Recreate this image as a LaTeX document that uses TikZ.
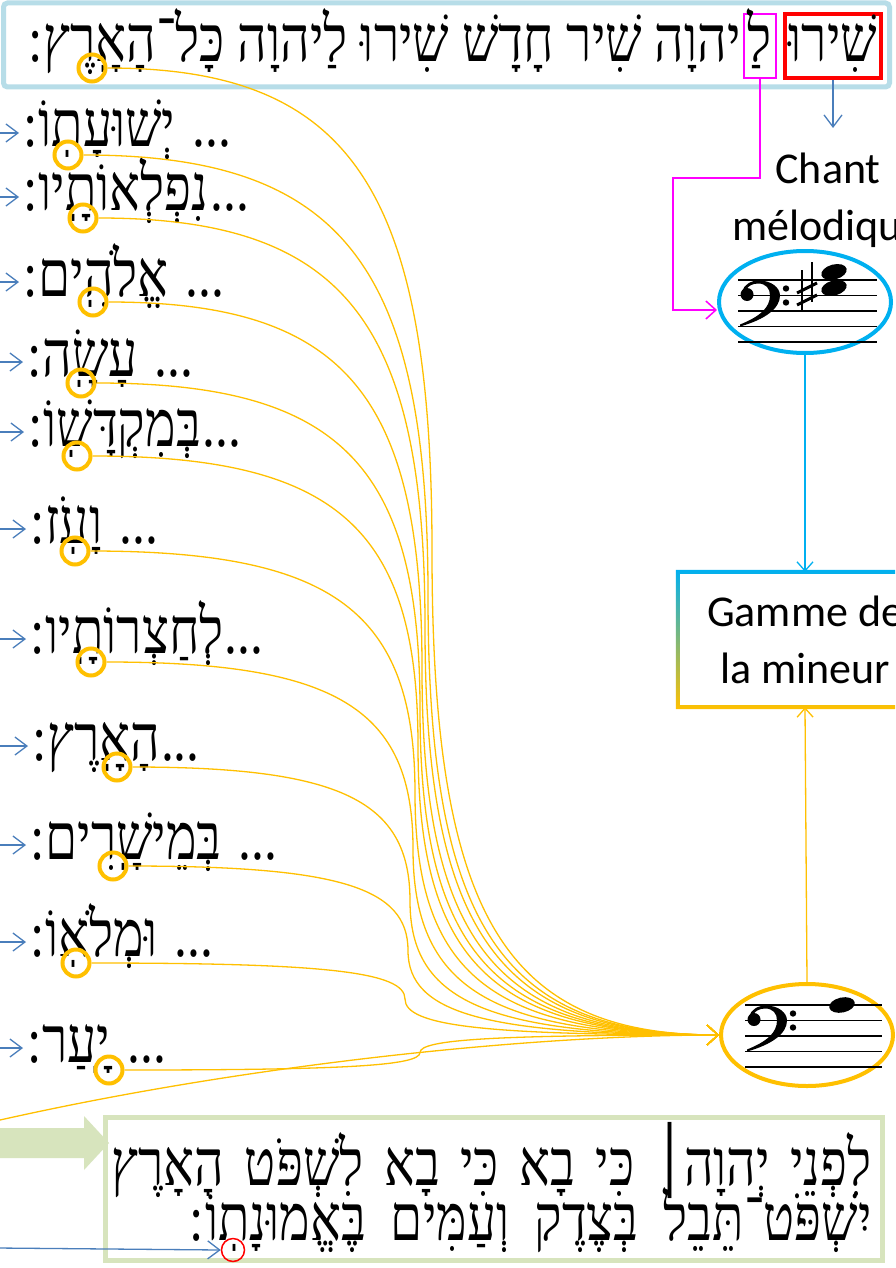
\documentclass[tikz,border=0pt]{standalone}
\usepackage{fontspec}
\usepackage{graphicx}
\setmainfont{Carlito}
\newfontfamily\hebfont[Script=Hebrew]{Liberation Serif}
\TeXXeTstate=1
\usetikzlibrary{arrows.meta,shapes.geometric,calc}
\definecolor{lblue}{HTML}{B7DDE8}
\definecolor{ppblue}{HTML}{4A7EBB}
\definecolor{cyanb}{HTML}{00B0F0}
\definecolor{orng}{HTML}{FFC000}
\definecolor{lgreen}{HTML}{D7E4BD}
\definecolor{mag}{HTML}{FF00FF}
\newcommand{\hb}[1]{\scalebox{1}[1.25]{\beginR #1\endR}}
\newcommand{\oconn}[2]{%
  \draw[ocurve] let \p1=(#1.east), \p2=(oell.west) in
   (\p1) .. controls ({\x1+0.75*(#2pt-\x1)},\y1) and (#2pt,{\y1+0.125*(\y2-\y1)}) ..
   (#2pt,{(\y1+\y2)/2}) .. controls (#2pt,{\y2-0.125*(\y2-\y1)}) and ({\x2-0.75*(\x2-#2pt)},\y2) .. (\p2);}
\newcommand{\myclef}[2]{%
  \begin{scope}[shift={(#1,#2)}]
    \fill (0,29) .. controls (20,21) and (30,12) .. (30,0) .. controls (30,-7) and (26,-12) .. (18,-12)
      .. controls (12,-12) and (7,-9) .. (5,-4) -- (2,-4) .. controls (4,-11) and (11,-15) .. (19,-15)
      .. controls (31,-15) and (40,-8) .. (40,0) .. controls (40,13) and (25,24) .. (0,31) -- cycle;
    \fill (7,-1) circle (6.5);
    \fill (46,-7) circle (3.2);
    \fill (46,7) circle (3.2);
  \end{scope}}
\begin{document}
\begin{tikzpicture}[x=1pt,y=-1pt,
  heb/.style={inner sep=0pt, font=\hebfont\fontsize{51.5}{60}\selectfont},
  item/.style={heb, anchor=base west},
  ocirc/.style={circle, draw=orng, line width=4pt, minimum size=27pt, inner sep=0pt},
  ocurve/.style={draw=orng, line width=1.3pt, -{Straight Barb[length=11pt,width=20pt]}},
  barrow/.style={draw=ppblue, line width=1.3pt, -{Straight Barb[length=12pt,width=18pt]}},
  carrow/.style={draw=cyanb, line width=1.3pt, -{Straight Barb[length=9pt,width=16pt]}},
  oarrow/.style={draw=orng, line width=1.3pt, -{Straight Barb[length=9pt,width=16pt]}},
  marrow/.style={draw=mag, line width=1.5pt, -{Straight Barb[length=10pt,width=18pt]}},
  lat/.style={inner sep=0pt, align=center, font=\fontsize{44}{57}\selectfont},
  staff/.style={line width=1.4pt}
]
\useasboundingbox (0,0) rectangle (895,1268);
\clip (0,0) rectangle (895,1268);
\fill[white] (0,0) rectangle (895,1268);

% ---------- top verse ----------
\node[draw=lblue, line width=5pt, rounded corners=4pt, minimum width=886pt, minimum height=84pt, inner sep=0pt] (topbox) at (446.5,45) {};
\node[heb, draw=red, line width=4pt, minimum width=96pt, minimum height=64pt, text height=36pt, text depth=4pt] (w1) at (833,46) {\hb{שִׁירוּ}};
\node[heb, draw=mag, line width=2pt, minimum width=32pt, minimum height=64pt, text height=36pt, text depth=4pt] (lam) at (760,46) {\hb{לַ}};
\node[heb, anchor=base east] (t1) at (741,62) {\hb{יהוָה שִׁיר חָדָשׁ שִׁירוּ לַיהוָה כָּל־הָאָֽרֶץ\kern1pt:}};

% ---------- list of verse endings ----------
\node[item] (w2) at (23,147) {\hb{... יְשׁוּעָתֽוֹ\kern1pt:}};
\node[item] (w3) at (23,211) {\hb{...\kern2pt נִפְלְאוֹתָֽיו\kern1pt:}};
\node[item] (w4) at (23,296) {\hb{... אֱלֹהִֽים\kern1pt:}};
\node[item] (w5) at (27,376) {\hb{... עָשָֽׂה\kern1pt:}};
\node[item] (w6) at (28,446) {\hb{...\kern2pt בְּמִקְדָּשֽׁוֹ\kern1pt:}};
\node[item] (w7) at (30,543) {\hb{... וָעֹֽז\kern1pt:}};
\node[item] (w8) at (30,653) {\hb{...\kern1pt לְחַצְרוֹתָֽיו\kern1pt:}};
\node[item] (w9) at (32,760) {\hb{...\kern1pt הָאָֽרֶץ\kern1pt:}};
\node[item] (w10) at (30,859) {\hb{... בְּמֵישָֽׁרִים\kern1pt:}};
\node[item] (w11) at (30,956) {\hb{... וּמְלֹאֽוֹ\kern1pt:}};
\node[item] (w12) at (27,1062) {\hb{... יָֽעַר\kern1pt:}};

% blue arrows from the left
\foreach \n/\yy in {2/133,3/197,4/282,5/362,6/432,7/529,8/639,9/746,10/845,11/942,12/1048}{
  \coordinate (l\n) at (-3,\yy);
  \draw[barrow, shorten >=4pt] (l\n) -- (l\n -| w\n.west);
}

% orange circles
\node[ocirc] (c1) at (92,68) {};
\node[ocirc] (c2) at (68,155) {};
\node[ocirc] (c3) at (83,218) {};
\node[ocirc] (c4) at (93,302) {};
\node[ocirc] (c5) at (81,383) {};
\node[ocirc] (c6) at (77,456) {};
\node[ocirc] (c7) at (75,551) {};
\node[ocirc] (c8) at (91,662) {};
\node[ocirc] (c9) at (117,767) {};
\node[ocirc] (c10) at (113,866) {};
\node[ocirc] (c11) at (76,963) {};
\node[ocirc] (c12) at (109,1070) {};

% ---------- right column ----------
\coordinate (a1) at (833,128);
\draw[barrow] (w1.south) -- (a1);
\node[lat] (chant) at (828,200) {Chant\\mélodique};

\node[ellipse, draw=cyanb, line width=4pt, minimum width=172pt, minimum height=102pt, inner sep=0pt] (bell) at (805,302) {};
\foreach \yy in {280,295.5,311,326.5,342}{\draw[staff] (738,\yy) -- (877,\yy);}
\myclef{740}{295.5}
\draw[line width=1.2pt] (802,270) -- (802,310);
\draw[line width=1.2pt] (812,262) -- (812,302);
\draw[line width=3pt] (797,293) -- (817,283);
\draw[line width=3pt] (797,305) -- (817,295);
\fill[rotate around={15:(834,272)}] (834,272) ellipse (13 and 7.5);
\fill[rotate around={15:(834,288)}] (834,288) ellipse (13 and 7.5);

\coordinate (m1) at (673,178);
\coordinate (m2) at (673,310);
\draw[marrow] (lam.south) |- (m1) -- (m2) -- (m2 -| bell.west);

\node[lat, minimum width=254pt, minimum height=135pt] (gamme) at (805,639.5) {Gamme de\\la mineur};
\shade[top color=cyanb, bottom color=orng, even odd rule]
  ([shift={(-2,-2)}]gamme.north west) rectangle ([shift={(2,2)}]gamme.south east)
  ([shift={(2,2)}]gamme.north west) rectangle ([shift={(-2,-2)}]gamme.south east);
\draw[carrow] (bell.south) -- (gamme.north);

\node[ellipse, draw=orng, line width=4pt, minimum width=172pt, minimum height=102pt, inner sep=0pt] (oell) at (807,1035) {};
\foreach \yy in {1005,1020.5,1036,1051.5,1067}{\draw[staff] (745,\yy) -- (882,\yy);}
\myclef{747}{1020.5}
\fill[rotate around={12:(842,1005)}] (842,1005) ellipse (13 and 7.5);
\draw[oarrow] (oell.north) -- (gamme.south);

% orange connectors
\oconn{c1}{432}
\oconn{c2}{428}
\oconn{c3}{425}
\oconn{c4}{422}
\oconn{c5}{420}
\oconn{c6}{418}
\oconn{c7}{415}
\oconn{c8}{413}
\oconn{c9}{410}
\oconn{c10}{408}
\oconn{c11}{405}
\oconn{c12}{420}
\coordinate (oc) at (-120,1150);
\draw[ocurve] (oc) .. controls (150,1075) and (500,1035) .. (oell.west);

% ---------- bottom verse ----------
\fill[lgreen] (0,1128) -- (84,1128) -- (84,1116) -- (109,1143) -- (84,1170) -- (84,1158) -- (0,1158) -- cycle;
\node[draw=lgreen, line width=5pt, minimum width=777pt, minimum height=143pt, inner sep=0pt] (vbox) at (494,1189) {};
\node[heb, anchor=base east] (v13a) at (872,1185) {\scalebox{1}[1.25]{\hbox to 760pt{\beginR לִפְנֵי יְהוָה׀ כִּי בָא כִּי בָא לִשְׁפֹּט הָאָרֶץ\endR}}};
\node[heb, anchor=base east] (v13b) at (872,1240) {\scalebox{1}[1.25]{\hbox to 682pt{\beginR יִשְׁפֹּט־תֵּבֵל בְּצֶדֶק וְעַמִּים בֶּאֱמוּנָתֽוֹ\kern1pt:\endR}}};
\node[circle, draw=red, line width=1.5pt, minimum size=23pt, inner sep=0pt] (rc) at (233,1250) {};
\coordinate (lb) at (-3,1248);
\draw[barrow] (lb) -- (rc.west);
\end{tikzpicture}
\end{document}
